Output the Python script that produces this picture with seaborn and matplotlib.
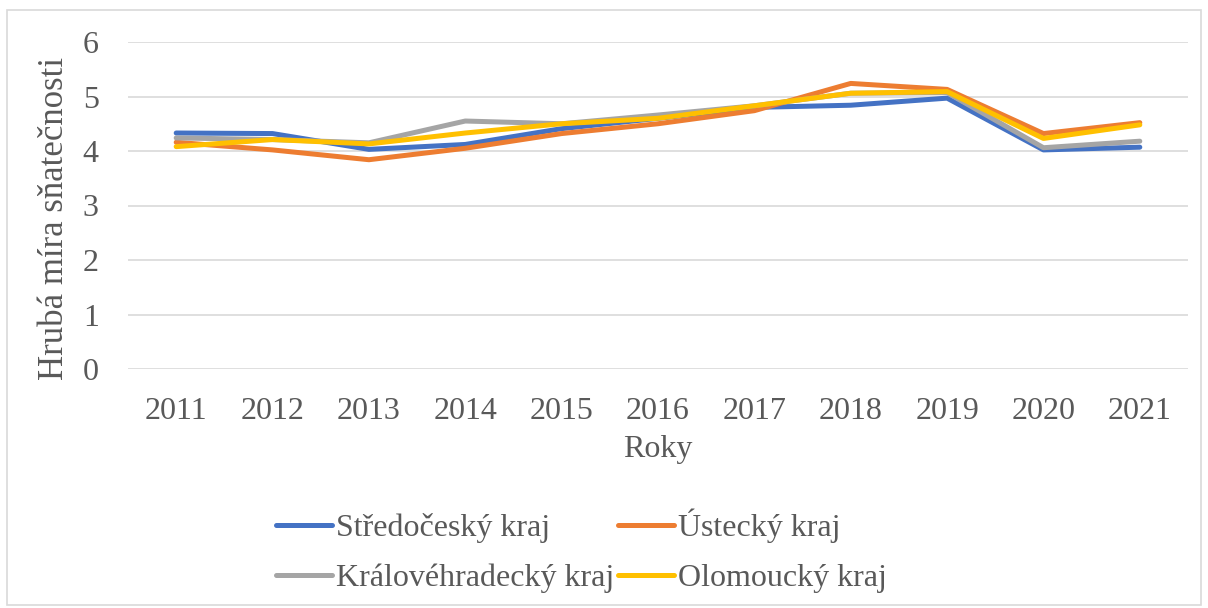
import matplotlib
matplotlib.use("Agg")
import matplotlib.pyplot as plt
import seaborn as sns
import pandas as pd
from matplotlib.patches import Rectangle

years = ["2011", "2012", "2013", "2014", "2015", "2016", "2017", "2018", "2019", "2020", "2021"]
stredocesky = [4.33, 4.32, 4.03, 4.12, 4.41, 4.60, 4.80, 4.84, 4.97, 4.02, 4.07]
ustecky = [4.16, 4.02, 3.84, 4.05, 4.32, 4.50, 4.74, 5.24, 5.13, 4.32, 4.52]
kralovehradecky = [4.24, 4.21, 4.15, 4.55, 4.50, 4.66, 4.83, 5.06, 5.07, 4.06, 4.18]
olomoucky = [4.08, 4.21, 4.13, 4.33, 4.50, 4.60, 4.83, 5.06, 5.09, 4.23, 4.48]
series_names = ["Středočeský kraj", "Ústecký kraj", "Královéhradecký kraj", "Olomoucký kraj"]
colors = ["#4472C4", "#ED7D31", "#A5A5A5", "#FFC000"]

rows = []
for name, vals in zip(series_names, [stredocesky, ustecky, kralovehradecky, olomoucky]):
    for i, (y, v) in enumerate(zip(years, vals)):
        rows.append({"idx": i, "rok": y, "hodnota": v, "kraj": name})
df = pd.DataFrame(rows)

sns.set_theme(style="white")
plt.rcParams["font.family"] = ["Liberation Serif", "DejaVu Serif"]
text_color = "#595959"
FS = 23

fig = plt.figure(figsize=(12.08, 6.08), dpi=100)
ax = fig.add_axes([128 / 1208, 1 - 369 / 608, 1060 / 1208, 327 / 608])

sns.lineplot(data=df, x="idx", y="hodnota", hue="kraj", hue_order=series_names,
             palette=colors, linewidth=3.6, ax=ax, legend=False, sort=False,
             solid_capstyle="round")

ax.set_xlim(-0.5, len(years) - 0.5)
ax.set_ylim(0, 6)
ax.set_yticks(range(0, 7))
ax.set_xticks(range(len(years)))
ax.set_xticklabels(years)
ax.yaxis.grid(True, color="#D9D9D9", linewidth=1.2)
ax.xaxis.grid(False)
for s in ax.spines.values():
    s.set_visible(False)
ax.tick_params(axis="both", length=0, labelsize=FS, colors=text_color)
ax.tick_params(axis="x", pad=20)
ax.tick_params(axis="y", pad=21)
ax.set_xlabel("Roky", fontsize=FS, color=text_color, labelpad=7)
ax.set_ylabel("Hrubá míra sňatečnosti", fontsize=25, color=text_color)
ax.yaxis.set_label_coords(-57 / 1060, 151 / 327)

# legend: one entry per box so that baselines stay aligned across columns
pos = {0: (276, 543), 1: (618, 543), 2: (276, 593), 3: (618, 593)}
for i, (name, c) in enumerate(zip(series_names, colors)):
    h = plt.Line2D([], [], color=c, linewidth=3.6, solid_capstyle="round")
    x, y = pos[i]
    fig.legend([h], [name], loc="lower left", bbox_to_anchor=(x / 1208, 1 - y / 608),
               frameon=False, fontsize=FS, labelcolor=text_color,
               handlelength=1.75, handletextpad=0.12, borderpad=0, borderaxespad=0)

fig.patches.append(Rectangle((7 / 1208, 3 / 608), 1194 / 1208, 595 / 608,
                             transform=fig.transFigure, fill=False,
                             edgecolor="#D9D9D9", linewidth=1.2))

fig.savefig("out.png", dpi=100)
